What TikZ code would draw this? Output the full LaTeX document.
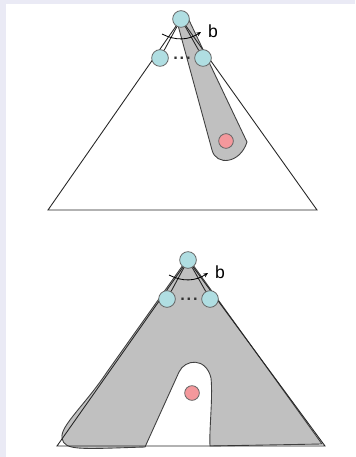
\documentclass[tikz,border=0pt]{standalone}
\usepackage{fontspec}
\setmainfont{Liberation Sans}
\usetikzlibrary{arrows.meta,calc}

\definecolor{bgcol}{RGB}{234,234,245}
\definecolor{nodeblue}{RGB}{176,222,226}
\definecolor{nodered}{RGB}{244,152,156}
\definecolor{shadegrey}{RGB}{192,192,192}

\begin{document}
\begin{tikzpicture}[x=0.03cm,y=-0.03cm,
    treenode/.style={circle,draw=black!60,fill=nodeblue,line width=0.7pt,minimum size=0.5cm,inner sep=0pt},
    rednode/.style={circle,draw=black!60,fill=nodered,line width=0.7pt,minimum size=0.44cm,inner sep=0pt},
    edgeline/.style={draw=black!85,line width=0.75pt},
    shade/.style={fill=shadegrey,draw=black!75,line width=0.75pt}]

    % Background and margins
    \fill[bgcol] (0,0) rectangle (355,457);
    \fill[white] (6,4) rectangle (355,457);

    % Grey band (upper tree)
    \draw[shade] (176,18) -- (212,150) .. controls (216,166) and (240,164) .. (247,142) -- (188,18) -- cycle;
    \node[rednode] (redA) at (226,141) {};

    % Grey region with a hole (lower tree)
    \draw[shade] (188,258) -- (107,372) .. controls (85,405) and (60,426) .. (62,438)
        .. controls (64,451) and (80,449) .. (145,447) -- (179,372)
        .. controls (185,359) and (206,357) .. (211,378)
        .. controls (213,398) and (209,430) .. (210,446) -- (322,444) -- cycle;
    \node[rednode] (redB) at (192,393) {};

    % Two trees: name/apex x/apex y/left x/right x/base y
    \foreach \k/\rx/\ry/\lx/\rgx/\by in {A/181/19/48/317/210, B/188/260/57/325/446} {
        % Triangle
        \coordinate (apex\k) at (\rx,\ry);
        \coordinate (bl\k) at (\lx,\by);
        \coordinate (br\k) at (\rgx,\by);
        \draw[edgeline] (bl\k) -- (br\k) -- (apex\k) -- cycle;

        % Root and its children
        \node[treenode] (root\k) at (apex\k) {};
        \node[treenode] (left\k) at ($(apex\k)+(-21,39)$) {};
        \node[treenode] (right\k) at ($(apex\k)+(22,39)$) {};
        \node[font=\fontsize{14}{17}\selectfont\bfseries,text=black!80] (dots\k) at ($(apex\k)+(1,39)$) {.\kern1.6pt.\kern1.6pt.};
        \draw[edgeline] (root\k) -- (left\k);
        \draw[edgeline] (root\k) -- (right\k);

        % Arrow b
        \coordinate (arcs\k) at ($(apex\k)+(-19,15)$);
        \coordinate (arce\k) at ($(apex\k)+(20,13)$);
        \draw[black,line width=0.7pt,-{Stealth[length=4pt,width=3.5pt]}] (arcs\k) to[bend right=30] (arce\k);
        \node[font=\fontsize{15}{18}\selectfont] (b\k) at ($(apex\k)+(32,12)$) {b};
    }
\end{tikzpicture}
\end{document}
